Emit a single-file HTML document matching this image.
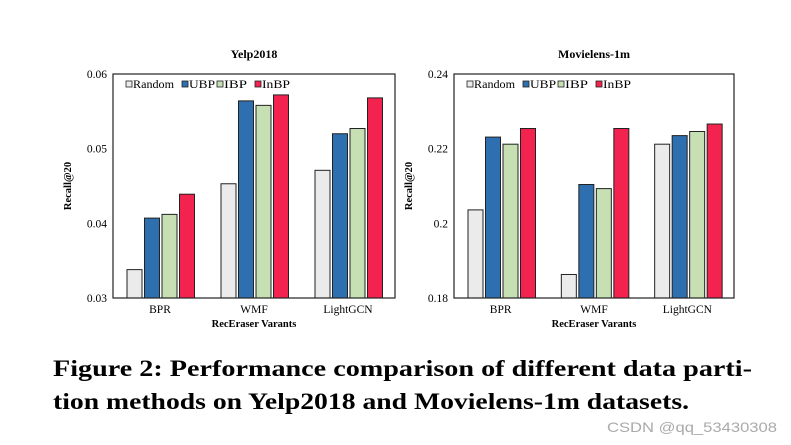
<!DOCTYPE html>
<html><head><meta charset="utf-8"><style>
body{margin:0;background:#fff;width:791px;height:445px;overflow:hidden}
svg{display:block}
</style></head><body>
<svg id="fig" width="791" height="445" font-family="'Liberation Serif', serif"></svg>
<script>
const categories = ["BPR","WMF","LightGCN"];
const seriesNames = ["Random","UBP","IBP","InBP"];
const yelpRandom = [0.0338,0.0453,0.0471];
const yelpUBP = [0.0407,0.0564,0.0520];
const yelpIBP = [0.0412,0.0558,0.0527];
const yelpInBP = [0.0439,0.0572,0.0568];
const mlRandom = [0.2036,0.1863,0.2212];
const mlUBP = [0.2231,0.2104,0.2235];
const mlIBP = [0.2212,0.2093,0.2246];
const mlInBP = [0.2254,0.2254,0.2266];
const yelpTicks = [0.03,0.04,0.05,0.06];
const yelpTickLabels = ["0.03","0.04","0.05","0.06"];
const mlTicks = [0.18,0.2,0.22,0.24];
const mlTickLabels = ["0.18","0.2","0.22","0.24"];
const colors = ["#ebebeb","#2e6fb0","#c6e0b4","#f2234f"];
const NS="http://www.w3.org/2000/svg";
const svg=document.getElementById('fig');
function mk(tag,attrs,parent,text){const e=document.createElementNS(NS,tag);for(const k in attrs)e.setAttribute(k,attrs[k]);if(text!==undefined)e.textContent=text;(parent||svg).appendChild(e);return e;}
function chart(x0,x1,y0,y1,title,series,ticks,tickLabels,prefix){
  const g=mk('g',{});
  
  
  const ymin=ticks[0],ymax=ticks[ticks.length-1];
  const ys=v=>y1-(v-ymin)/(ymax-ymin)*(y1-y0);
  const gw=(x1-x0)/categories.length;
  const t=mk('text',{x:(x0+x1)/2,y:58,'text-anchor':'middle','font-size':12,'font-weight':'bold'},g,title);
  
  
  ticks.forEach((v,i)=>{
    const l=mk('text',{x:x0-6,y:ys(v)+4,'text-anchor':'end','font-size':11.5},g,tickLabels[i]);
    
    
  });
  series.forEach((arr,si)=>{
    arr.forEach((v,ci)=>{
      const bx=x0+ci*gw+14+si*17.5;
      const r=mk('rect',{x:bx,y:ys(v),width:15,height:y1-ys(v),fill:colors[si],stroke:'#222','stroke-width':1},g);
      
      
    });
  });
  categories.forEach((c,ci)=>{
    const l=mk('text',{x:x0+ci*gw+gw/2,y:313,'text-anchor':'middle','font-size':11.5},g,c);
    
    
  });
  const f=mk('rect',{x:x0,y:y0,width:x1-x0,height:y1-y0,fill:'none',stroke:'#222','stroke-width':1.2},g);
  
  
  const yt=mk('text',{x:0,y:0,'text-anchor':'middle','font-size':10.5,'font-weight':'bold',transform:`translate(${x0-42},${(y0+y1)/2}) rotate(-90)`},g,'Recall@20');
  
  
  const xt=mk('text',{x:(x0+x1)/2,y:327,'text-anchor':'middle','font-size':10.5,'font-weight':'bold'},g,'RecEraser Varants');
  
  
  const loff=[0,56,91,129];
  const tw=[41,26,23,28];
  seriesNames.forEach((n,si)=>{
    const lx=x0+13+loff[si];
    const s=mk('rect',{x:lx,y:81,width:6,height:6,fill:colors[si],stroke:'#222','stroke-width':0.8},g);
    
    
    const tx=mk('text',{x:lx+7,y:88,'font-size':12,textLength:tw[si],lengthAdjust:'spacingAndGlyphs'},g,n);
    
    
  });
}
chart(113,395,74,298,'Yelp2018',[yelpRandom,yelpUBP,yelpIBP,yelpInBP],yelpTicks,yelpTickLabels,'yelp');
chart(454,734,74,298,'Movielens-1m',[mlRandom,mlUBP,mlIBP,mlInBP],mlTicks,mlTickLabels,'movielens');
</script>
<svg width="791" height="445" style="position:absolute;left:0;top:0">
<text x="53" y="376" font-family="'Liberation Serif', serif" font-weight="bold" font-size="23" textLength="699" lengthAdjust="spacingAndGlyphs">Figure 2: Performance comparison of different data parti-</text>
<text x="53" y="409" font-family="'Liberation Serif', serif" font-weight="bold" font-size="23" textLength="636" lengthAdjust="spacingAndGlyphs">tion methods on Yelp2018 and Movielens-1m datasets.</text>
<text x="607" y="432" font-family="'Liberation Sans', sans-serif" font-size="14" fill="#aaa" textLength="170" lengthAdjust="spacingAndGlyphs">CSDN @qq_53430308</text>
</svg>
</body></html>
